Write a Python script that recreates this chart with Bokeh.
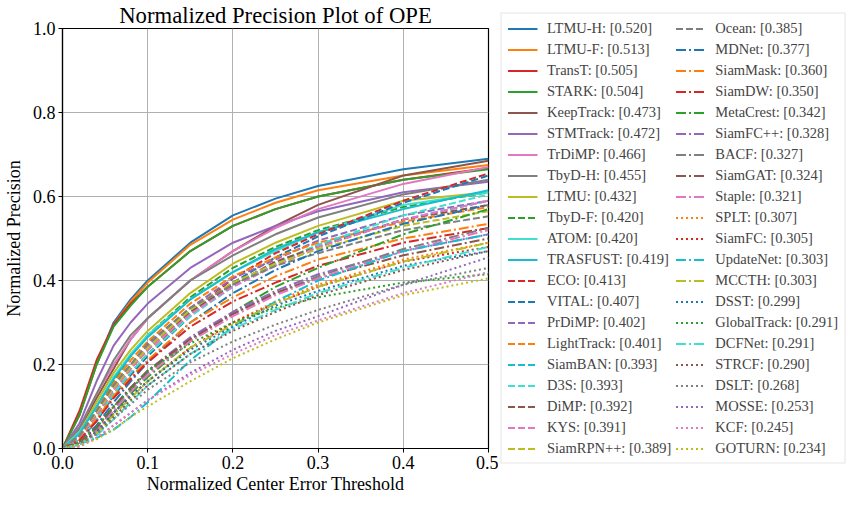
from bokeh.plotting import figure
from bokeh.layouts import row
from bokeh.models import Legend, LegendItem, Range1d, FixedTicker, NumeralTickFormatter
from bokeh.embed import file_html
from bokeh.resources import INLINE

# Normalized center error thresholds
thresholds = [0.0, 0.02, 0.04, 0.06, 0.08, 0.10, 0.15, 0.20, 0.25, 0.30, 0.40, 0.50]

# Normalized precision (one list per tracker)
ltmu_h      = [0, 0.08, 0.20, 0.30, 0.355, 0.40, 0.49, 0.555, 0.595, 0.625, 0.665, 0.69]
ltmu_f      = [0, 0.08, 0.20, 0.295, 0.35, 0.395, 0.485, 0.545, 0.585, 0.615, 0.65, 0.675]
transt      = [0, 0.09, 0.21, 0.295, 0.345, 0.385, 0.47, 0.53, 0.57, 0.60, 0.64, 0.668]
stark       = [0, 0.08, 0.20, 0.29, 0.34, 0.385, 0.47, 0.53, 0.57, 0.60, 0.64, 0.665]
keeptrack   = [0, 0.045, 0.12, 0.19, 0.26, 0.31, 0.40, 0.47, 0.53, 0.58, 0.65, 0.685]
stmtrack    = [0, 0.06, 0.16, 0.245, 0.30, 0.345, 0.43, 0.49, 0.53, 0.565, 0.61, 0.635]
trdimp      = [0, 0.05, 0.13, 0.20, 0.26, 0.31, 0.40, 0.47, 0.525, 0.57, 0.63, 0.67]
tbyd_h      = [0, 0.05, 0.13, 0.21, 0.27, 0.31, 0.40, 0.46, 0.51, 0.55, 0.605, 0.64]
ltmu        = [0, 0.04, 0.11, 0.18, 0.235, 0.28, 0.37, 0.44, 0.49, 0.53, 0.59, 0.61]
tbyd_f      = [0, 0.03, 0.09, 0.16, 0.22, 0.27, 0.36, 0.43, 0.48, 0.52, 0.575, 0.61]
atom        = [0, 0.04, 0.10, 0.17, 0.225, 0.27, 0.355, 0.42, 0.47, 0.515, 0.58, 0.61]
trasfust    = [0, 0.035, 0.10, 0.165, 0.22, 0.265, 0.355, 0.42, 0.475, 0.515, 0.57, 0.615]
eco         = [0, 0.02, 0.07, 0.13, 0.18, 0.225, 0.32, 0.405, 0.465, 0.51, 0.59, 0.655]
vital       = [0, 0.02, 0.065, 0.125, 0.175, 0.22, 0.315, 0.395, 0.455, 0.505, 0.585, 0.65]
prdimp      = [0, 0.03, 0.085, 0.15, 0.20, 0.245, 0.335, 0.405, 0.45, 0.495, 0.555, 0.59]
lighttrack  = [0, 0.03, 0.09, 0.155, 0.21, 0.255, 0.345, 0.41, 0.455, 0.49, 0.54, 0.575]
siamban     = [0, 0.025, 0.08, 0.14, 0.19, 0.235, 0.325, 0.39, 0.44, 0.485, 0.545, 0.59]
d3s         = [0, 0.02, 0.07, 0.13, 0.18, 0.225, 0.315, 0.385, 0.44, 0.485, 0.555, 0.605]
dimp        = [0, 0.025, 0.08, 0.14, 0.19, 0.235, 0.325, 0.39, 0.445, 0.48, 0.545, 0.58]
kys         = [0, 0.025, 0.08, 0.14, 0.19, 0.235, 0.32, 0.385, 0.435, 0.48, 0.545, 0.59]
siamrpnpp   = [0, 0.03, 0.085, 0.145, 0.195, 0.24, 0.33, 0.395, 0.44, 0.475, 0.53, 0.565]
ocean       = [0, 0.03, 0.09, 0.15, 0.20, 0.25, 0.335, 0.39, 0.435, 0.465, 0.52, 0.553]
mdnet       = [0, 0.015, 0.055, 0.11, 0.16, 0.205, 0.30, 0.37, 0.425, 0.47, 0.535, 0.58]
siammask    = [0, 0.02, 0.07, 0.125, 0.17, 0.21, 0.30, 0.36, 0.41, 0.45, 0.50, 0.535]
siamdw      = [0, 0.02, 0.065, 0.12, 0.165, 0.205, 0.29, 0.35, 0.395, 0.435, 0.49, 0.525]
metacrest   = [0, 0.01, 0.04, 0.085, 0.13, 0.17, 0.255, 0.325, 0.385, 0.43, 0.51, 0.57]
siamfcpp    = [0, 0.015, 0.05, 0.10, 0.145, 0.185, 0.265, 0.325, 0.375, 0.415, 0.47, 0.51]
bacf        = [0, 0.01, 0.045, 0.095, 0.14, 0.18, 0.26, 0.32, 0.37, 0.41, 0.475, 0.525]
siamgat     = [0, 0.015, 0.05, 0.10, 0.145, 0.185, 0.26, 0.32, 0.37, 0.405, 0.46, 0.50]
staple      = [0, 0.01, 0.04, 0.09, 0.135, 0.175, 0.255, 0.315, 0.365, 0.405, 0.47, 0.52]
splt        = [0, 0.01, 0.04, 0.085, 0.125, 0.16, 0.24, 0.30, 0.35, 0.39, 0.45, 0.49]
siamfc      = [0, 0.01, 0.04, 0.085, 0.125, 0.16, 0.24, 0.30, 0.345, 0.385, 0.445, 0.48]
updatenet   = [0, 0.01, 0.025, 0.045, 0.075, 0.11, 0.21, 0.29, 0.35, 0.40, 0.47, 0.51]
mccth       = [0, 0.01, 0.035, 0.08, 0.12, 0.16, 0.24, 0.295, 0.345, 0.385, 0.445, 0.49]
dsst        = [0, 0.01, 0.04, 0.085, 0.125, 0.16, 0.235, 0.29, 0.34, 0.375, 0.435, 0.47]
globaltrack = [0, 0.015, 0.05, 0.10, 0.14, 0.185, 0.25, 0.30, 0.335, 0.36, 0.395, 0.415]
dcfnet      = [0, 0.01, 0.03, 0.07, 0.11, 0.15, 0.225, 0.285, 0.33, 0.37, 0.43, 0.48]
strcf       = [0, 0.01, 0.035, 0.075, 0.115, 0.15, 0.225, 0.28, 0.325, 0.365, 0.425, 0.47]
dslt        = [0, 0.01, 0.035, 0.07, 0.105, 0.14, 0.205, 0.255, 0.295, 0.33, 0.39, 0.43]
mosse       = [0, 0.005, 0.025, 0.055, 0.085, 0.115, 0.18, 0.235, 0.28, 0.315, 0.39, 0.455]
kcf         = [0, 0.005, 0.025, 0.055, 0.085, 0.115, 0.175, 0.225, 0.27, 0.305, 0.37, 0.42]
goturn      = [0, 0.008, 0.022, 0.045, 0.075, 0.10, 0.16, 0.215, 0.26, 0.30, 0.365, 0.405]

tracker_names = ["LTMU-H", "LTMU-F", "TransT", "STARK", "KeepTrack", "STMTrack", "TrDiMP",
                 "TbyD-H", "LTMU", "TbyD-F", "ATOM", "TRASFUST", "ECO", "VITAL", "PrDiMP",
                 "LightTrack", "SiamBAN", "D3S", "DiMP", "KYS", "SiamRPN++", "Ocean", "MDNet",
                 "SiamMask", "SiamDW", "MetaCrest", "SiamFC++", "BACF", "SiamGAT", "Staple",
                 "SPLT", "SiamFC", "UpdateNet", "MCCTH", "DSST", "GlobalTrack", "DCFNet",
                 "STRCF", "DSLT", "MOSSE", "KCF", "GOTURN"]
tracker_scores = [0.520, 0.513, 0.505, 0.504, 0.473, 0.472, 0.466, 0.455, 0.432, 0.420, 0.420,
                  0.419, 0.413, 0.407, 0.402, 0.401, 0.393, 0.393, 0.392, 0.391, 0.389, 0.385,
                  0.377, 0.360, 0.350, 0.342, 0.328, 0.327, 0.324, 0.321, 0.307, 0.305, 0.303,
                  0.303, 0.299, 0.291, 0.291, 0.290, 0.268, 0.253, 0.245, 0.234]
tracker_values = [ltmu_h, ltmu_f, transt, stark, keeptrack, stmtrack, trdimp, tbyd_h, ltmu,
                  tbyd_f, atom, trasfust, eco, vital, prdimp, lighttrack, siamban, d3s, dimp,
                  kys, siamrpnpp, ocean, mdnet, siammask, siamdw, metacrest, siamfcpp, bacf,
                  siamgat, staple, splt, siamfc, updatenet, mccth, dsst, globaltrack, dcfnet,
                  strcf, dslt, mosse, kcf, goturn]

# styles
BLUE, ORANGE, GREEN, RED, PURPLE = "#1f77b4", "#ff7f0e", "#2ca02c", "#d62728", "#9467bd"
BROWN, PINK, GRAY, OLIVE, CYAN, TURQ = "#8c564b", "#e377c2", "#7f7f7f", "#bcbd22", "#17becf", "#40e0d0"
tracker_colors = [BLUE, ORANGE, RED, GREEN, BROWN, PURPLE, PINK, GRAY, OLIVE, GREEN, TURQ, CYAN,
                  RED, BLUE, PURPLE, ORANGE, CYAN, TURQ, BROWN, PINK, OLIVE, GRAY, BLUE, ORANGE,
                  RED, GREEN, PURPLE, GRAY, BROWN, PINK, ORANGE, RED, CYAN, OLIVE, BLUE, GREEN,
                  TURQ, BROWN, GRAY, PURPLE, PINK, OLIVE]
S, D, DD, DT = "solid", "7 3", "10 3 2 3", "2 3"
tracker_dashes = ([S] * 9 + [D] + [S, S] + [D] * 10 + [DD] * 8 + [DT, DT] + [DD, DD]
                  + [DT, DT] + [DD] + [DT] * 5)

FONT = "Liberation Serif"

p = figure(frame_width=426, frame_height=420, x_range=Range1d(0, 0.5), y_range=Range1d(0, 1),
           output_backend="svg", toolbar_location=None,
           title="Normalized Precision Plot of OPE",
           min_border_left=56, min_border_right=10, min_border_top=25, min_border_bottom=0)

p.title.text_font = FONT
p.title.text_font_size = "22.7px"
p.title.text_font_style = "normal"
p.title.text_color = "black"
p.title.align = "center"
p.title.standoff = 1

p.xaxis.axis_label = "Normalized Center Error Threshold"
p.yaxis.axis_label = "Normalized Precision"
for ax in (p.xaxis, p.yaxis):
    ax.axis_label_text_font = FONT
    ax.axis_label_text_font_size = "18px"
    ax.axis_label_text_font_style = "normal"
    ax.axis_label_text_color = "black"
    ax.major_label_text_font = FONT
    ax.major_label_text_font_size = "18px"
    ax.major_label_text_color = "black"
    ax.axis_line_color = "black"
    ax.axis_line_width = 1.2
    ax.major_tick_line_color = "black"
    ax.major_tick_out = 4
    ax.major_tick_in = 0
    ax.minor_tick_line_color = None
    ax.formatter = NumeralTickFormatter(format="0.0")
    ax.major_label_standoff = 3
p.xaxis.ticker = FixedTicker(ticks=[0.0, 0.1, 0.2, 0.3, 0.4, 0.5])
p.yaxis.ticker = FixedTicker(ticks=[0.0, 0.2, 0.4, 0.6, 0.8, 1.0])
p.xaxis.axis_label_standoff = 2
p.yaxis.axis_label_standoff = 6

p.xgrid.grid_line_color = "#b0b0b0"
p.ygrid.grid_line_color = "#b0b0b0"
p.xgrid.grid_line_width = 1
p.ygrid.grid_line_width = 1
p.outline_line_color = "black"
p.outline_line_width = 1.2
p.background_fill_color = "white"
p.border_fill_color = "white"

# legend lives in the side panel of a blank companion figure to the right of the axes
pl = figure(width=357, height=496, output_backend="svg", toolbar_location=None,
            x_range=Range1d(0, 1), y_range=Range1d(0, 1),
            x_axis_location=None, y_axis_location=None,
            min_border_left=0, min_border_right=0, min_border_top=0, min_border_bottom=0)
pl.grid.visible = False
pl.outline_line_color = None
pl.background_fill_color = "white"
pl.border_fill_color = "white"

items = []
for name, score, vals, col, dash in zip(tracker_names, tracker_scores, tracker_values,
                                        tracker_colors, tracker_dashes):
    p.line(thresholds, vals, line_color=col, line_width=2, line_dash=dash)
    proxy = pl.line([5, 6], [5, 6], line_color=col, line_width=2, line_dash=dash)
    items.append(LegendItem(label=f"{name}: [{score:.3f}]", renderers=[proxy]))

legend = Legend(items=items, ncols=2, location="center",
                label_text_font=FONT, label_text_font_size="14.5px",
                label_height=16, glyph_height=16, glyph_width=30,
                label_standoff=10, spacing=4, padding=6, margin=0,
                border_line_color="#cccccc", border_line_width=1,
                background_fill_alpha=1.0)
pl.add_layout(legend, "left")

layout = row(p, pl)
open("out.html", "w").write(file_html(layout, INLINE))
